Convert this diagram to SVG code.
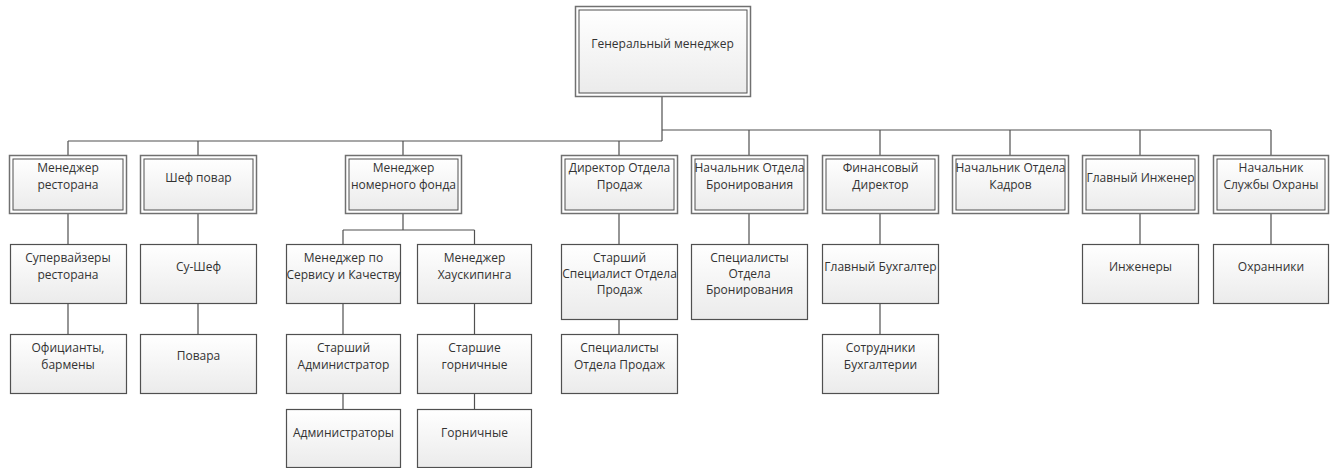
<svg xmlns="http://www.w3.org/2000/svg" width="1335" height="468" viewBox="0 0 1335 468">
<defs>
<linearGradient id="g" x1="0" y1="0" x2="0" y2="1">
<stop offset="0" stop-color="#ffffff"/>
<stop offset="1" stop-color="#ebebeb"/>
</linearGradient>
<style>
.o{fill:#ffffff;stroke:#707070;stroke-width:1.5}
.i{fill:url(#g);stroke:#505050;stroke-width:1}
.s{fill:url(#g);stroke:#505050;stroke-width:1.2}
.c{fill:none;stroke:#505050;stroke-width:1.2}
text{font-family:"Open Sans","Noto Sans","Liberation Sans",sans-serif;font-size:12px;fill:#333;text-anchor:middle}
</style>
</defs>
<rect width="1335" height="468" fill="#ffffff"/>
<g id="connectors" class="c">
<path class="c" d="M662 96V141M68 141H662M662 130H1271"/>
<path class="c" d="M68 141V155M198 141V155M403 141V155M619 141V155"/>
<path class="c" d="M749 130V155M880 130V155M1010 130V155M1140 130V155M1271 130V155"/>
<path class="c" d="M68 214V244M198 214V244M403 214V230M343 230H474.5M343 230V244M474.5 230V244M619 214V244M749 214V244M880 214V244M1140 214V244M1271 214V244"/>
<path class="c" d="M68 303V334M198 303V334M343 303V334M474.5 303V334M619 319V334M880 303V334"/>
<path class="c" d="M343 393V409M474.5 393V409"/>
</g>
<g id="gm"><rect class="o" x="575.5" y="6.5" width="175" height="90"/><rect class="i" x="579" y="10" width="168" height="83"/><text x="662.5" y="47.5">Генеральный менеджер</text></g>
<g id="n1"><rect class="o" x="9.5" y="155.5" width="117" height="58"/><rect class="i" x="13" y="159" width="110" height="51"/><text x="68" y="171.5">Менеджер</text><text x="68" y="188.5">ресторана</text></g>
<g id="n2"><rect class="o" x="140.5" y="155.5" width="116" height="58"/><rect class="i" x="144" y="159" width="109" height="51"/><text x="198.5" y="181.5">Шеф повар</text></g>
<g id="n3"><rect class="o" x="345.5" y="155.5" width="116" height="58"/><rect class="i" x="349" y="159" width="109" height="51"/><text x="403.5" y="171.5">Менеджер</text><text x="403.5" y="188.5">номерного фонда</text></g>
<g id="n4"><rect class="o" x="561.5" y="155.5" width="116" height="58"/><rect class="i" x="565" y="159" width="109" height="51"/><text x="619.5" y="171.5">Директор Отдела</text><text x="619.5" y="188.5">Продаж</text></g>
<g id="n5"><rect class="o" x="691.5" y="155.5" width="116" height="58"/><rect class="i" x="695" y="159" width="109" height="51"/><text x="749.5" y="171.5">Начальник Отдела</text><text x="749.5" y="188.5">Бронирования</text></g>
<g id="n6"><rect class="o" x="822.5" y="155.5" width="116" height="58"/><rect class="i" x="826" y="159" width="109" height="51"/><text x="880.5" y="171.5">Финансовый</text><text x="880.5" y="188.5">Директор</text></g>
<g id="n7"><rect class="o" x="952.5" y="155.5" width="116" height="58"/><rect class="i" x="956" y="159" width="109" height="51"/><text x="1010.5" y="171.5">Начальник Отдела</text><text x="1010.5" y="188.5">Кадров</text></g>
<g id="n8"><rect class="o" x="1082.5" y="155.5" width="116" height="58"/><rect class="i" x="1086" y="159" width="109" height="51"/><text x="1140.5" y="181.5">Главный Инженер</text></g>
<g id="n9"><rect class="o" x="1213.5" y="155.5" width="115" height="58"/><rect class="i" x="1217" y="159" width="108" height="51"/><text x="1271" y="171.5">Начальник</text><text x="1271" y="188.5">Службы Охраны</text></g>
<g id="n1a"><rect class="s" x="10.5" y="244.5" width="116" height="59"/><text x="68" y="261.5">Супервайзеры</text><text x="68" y="278.5">ресторана</text></g>
<g id="n1b"><rect class="s" x="10.5" y="334.5" width="116" height="59"/><text x="68" y="351.5">Официанты,</text><text x="68" y="368.5">бармены</text></g>
<g id="n2a"><rect class="s" x="140.5" y="244.5" width="116" height="59"/><text x="198.5" y="270.5">Су-Шеф</text></g>
<g id="n2b"><rect class="s" x="140.5" y="334.5" width="116" height="59"/><text x="198.5" y="359.5">Повара</text></g>
<g id="n3a"><rect class="s" x="286.5" y="244.5" width="114" height="59"/><text x="343.5" y="261.5">Менеджер по</text><text x="343.5" y="278.5">Сервису и Качеству</text></g>
<g id="n3b"><rect class="s" x="417.5" y="244.5" width="114" height="59"/><text x="474.5" y="261.5">Менеджер</text><text x="474.5" y="278.5">Хаускипинга</text></g>
<g id="n3c"><rect class="s" x="286.5" y="334.5" width="114" height="59"/><text x="343.5" y="351.5">Старший</text><text x="343.5" y="368.5">Администратор</text></g>
<g id="n3d"><rect class="s" x="417.5" y="334.5" width="114" height="59"/><text x="474.5" y="351.5">Старшие</text><text x="474.5" y="368.5">горничные</text></g>
<g id="n3e"><rect class="s" x="286.5" y="409.5" width="114" height="58"/><text x="343.5" y="436.5">Администраторы</text></g>
<g id="n3f"><rect class="s" x="417.5" y="409.5" width="114" height="58"/><text x="474.5" y="436.5">Горничные</text></g>
<g id="n4a"><rect class="s" x="561.5" y="244.5" width="116" height="75"/><text x="619.5" y="261.5">Старший</text><text x="619.5" y="277.5">Специалист Отдела</text><text x="619.5" y="293.5">Продаж</text></g>
<g id="n4b"><rect class="s" x="561.5" y="334.5" width="116" height="59"/><text x="619.5" y="351.5">Специалисты</text><text x="619.5" y="368.5">Отдела Продаж</text></g>
<g id="n5a"><rect class="s" x="691.5" y="244.5" width="116" height="75"/><text x="749.5" y="261.5">Специалисты</text><text x="749.5" y="277.5">Отдела</text><text x="749.5" y="293.5">Бронирования</text></g>
<g id="n6a"><rect class="s" x="822.5" y="244.5" width="116" height="59"/><text x="880.5" y="270.5">Главный Бухгалтер</text></g>
<g id="n6b"><rect class="s" x="822.5" y="334.5" width="116" height="59"/><text x="880.5" y="351.5">Сотрудники</text><text x="880.5" y="368.5">Бухгалтерии</text></g>
<g id="n8a"><rect class="s" x="1082.5" y="244.5" width="116" height="59"/><text x="1140.5" y="270.5">Инженеры</text></g>
<g id="n9a"><rect class="s" x="1213.5" y="244.5" width="115" height="59"/><text x="1271" y="270.5">Охранники</text></g>
</svg>
